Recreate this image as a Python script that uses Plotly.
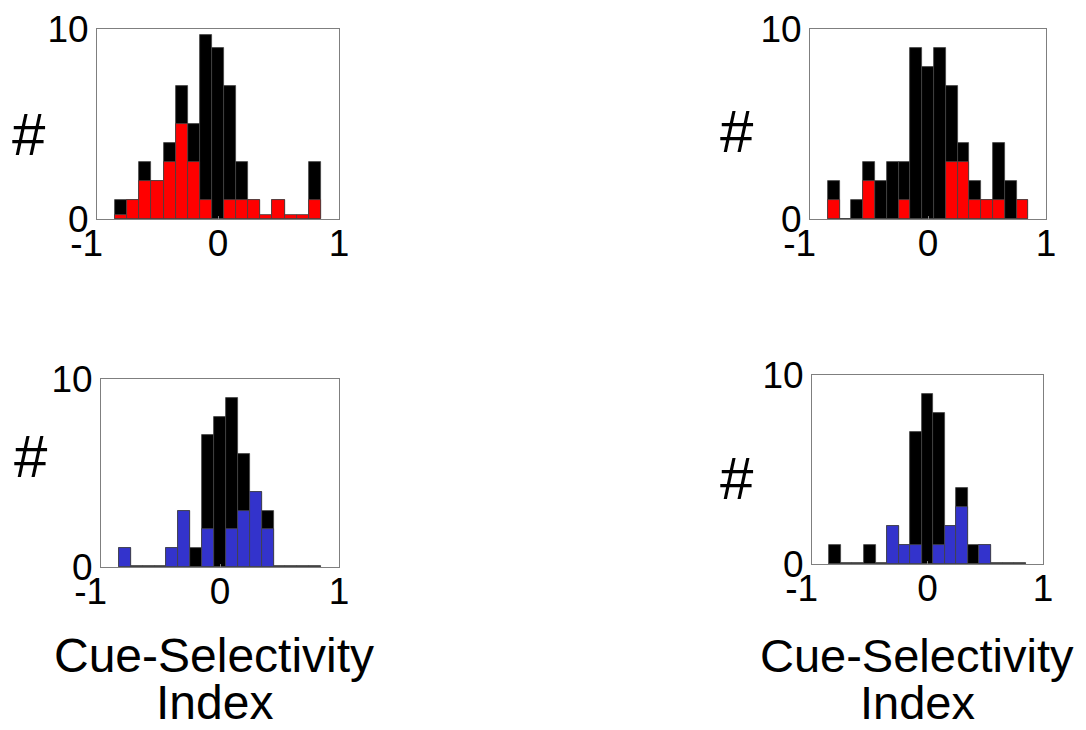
import plotly.graph_objects as go

# page has an 8px body margin: figure is drawn 8px in from the window edge
PAGE_W, PAGE_H, OFF = 1086, 730, 8
W, H = PAGE_W - 2 * OFF, PAGE_H - 2 * OFF

# ---- data (bin centers and counts) ----
bin_centers = [-0.8, -0.7, -0.6, -0.5, -0.4, -0.3, -0.2, -0.1, 0.0,
               0.1, 0.2, 0.3, 0.4, 0.5, 0.6, 0.7, 0.8]

# top-left panel: all cells (black) and selective cells (red)
tl_all = [1, 1, 3, 2, 4, 7, 5, 9.7, 9, 7, 3, 1, 0, 1, 0, 0, 3]
tl_sel = [0.2, 1, 2, 2, 3, 5, 3, 1, 0, 1, 1, 1, 0.2, 1, 0.2, 0.2, 1]

# top-right panel
tr_all = [2, 0, 1, 3, 2, 3, 3, 9, 8, 9, 7, 4, 2, 1, 4, 2, 1]
tr_sel = [1, 0, 0, 2, 0, 0, 1, 0, 0, 0, 3, 3, 1, 1, 1, 0, 1]

# bottom-left panel: all cells (black) and selective cells (blue)
bl_all = [1, 0.06, 0.06, 0.06, 1, 3, 1, 7, 8, 9, 6, 4, 3, 0.06, 0.06, 0.06, 0.06]
bl_sel = [1, 0, 0, 0, 1, 3, 0, 2, 0, 2, 3, 4, 2, 0, 0, 0, 0]

# bottom-right panel
br_all = [1, 0.06, 0.06, 1, 0.06, 2, 1, 7, 9, 8, 2, 4, 1, 1, 0.06, 0.06, 0.06]
br_sel = [0, 0, 0, 0, 0, 2, 1, 1, 0, 1, 2, 3, 0, 1, 0, 0, 0]

x_ticks = [-1, 0, 1]
x_ticktext = ["-1\u00a0\u00a0", "0", "1"]
y_ticks = [0, 10]
y_ticktext = ["0", "10"]
x_title_lines = ["Cue-Selectivity", "Index"]
y_title = "#"

BLACK = "#000000"
RED = "#ff0000"
BLUE = "#3333cc"
EDGE = "#444444"
FONT = "Liberation Sans, Arial, sans-serif"


def px(x):
    return (x - OFF) / W


def py(y):
    return 1 - (y - OFF) / H


# ---- layout geometry (window pixels of the plot boxes) ----
boxes = [  # (left, right, top, bottom)
    (97, 339, 29, 219),
    (810, 1046, 29, 219),
    (101, 339, 379, 567),
    (812, 1043, 375, 564),
]

panels = [
    (tl_all, tl_sel, RED),
    (tr_all, tr_sel, RED),
    (bl_all, bl_sel, BLUE),
    (br_all, br_sel, BLUE),
]

fig = go.Figure()
layout_axes = {}
for i, ((allv, selv, col), (l, r, t, b)) in enumerate(zip(panels, boxes)):
    n = "" if i == 0 else str(i + 1)
    xa, ya = "x" + n, "y" + n
    fig.add_trace(go.Bar(x=bin_centers, y=allv, width=0.1, xaxis=xa, yaxis=ya,
                         marker=dict(color=BLACK, line=dict(color=EDGE, width=0.8)),
                         showlegend=False, hoverinfo="skip"))
    fig.add_trace(go.Bar(x=bin_centers, y=selv, width=0.1, xaxis=xa, yaxis=ya,
                         marker=dict(color=col, line=dict(color=EDGE, width=0.8)),
                         showlegend=False, hoverinfo="skip"))
    axcommon = dict(showline=True, linecolor="#7f7f7f", linewidth=1, mirror=True,
                    showgrid=False, zeroline=False, ticks="inside", ticklen=3,
                    tickcolor="#7f7f7f", automargin=False,
                    tickfont=dict(family=FONT, size=37, color="black"))
    layout_axes["xaxis" + n] = dict(axcommon, domain=[px(l), px(r)], range=[-1, 1],
                                     anchor=ya, tickvals=x_ticks, ticktext=x_ticktext,
                                     ticklabelstandoff=-8)
    layout_axes["yaxis" + n] = dict(axcommon, domain=[py(b), py(t)], range=[0, 10],
                                     anchor=xa, tickvals=y_ticks, ticktext=y_ticktext)

fig.update_layout(**layout_axes)

annots = []
hash_pos = [(29, 134), (737, 131), (31, 456), (737, 478)]
for (hx, hy) in hash_pos:
    annots.append(dict(text=y_title, x=px(hx), y=py(hy), xref="paper", yref="paper",
                       showarrow=False, xanchor="center", yanchor="middle",
                       font=dict(family=FONT, size=60, color="black")))
for cx, fs in ((214, 48), (917, 47)):
    for line, cy in zip(x_title_lines, (655, 702)):
        annots.append(dict(text=line, x=px(cx), y=py(cy), xref="paper", yref="paper",
                           showarrow=False, xanchor="center", yanchor="middle",
                           font=dict(family=FONT, size=fs, color="black")))

fig.update_layout(
    width=W, height=H,
    margin=dict(l=0, r=0, t=0, b=0, autoexpand=False),
    paper_bgcolor="white", plot_bgcolor="white",
    barmode="overlay", bargap=0,
    annotations=annots,
    showlegend=False,
)

fig.write_html("out.html")
